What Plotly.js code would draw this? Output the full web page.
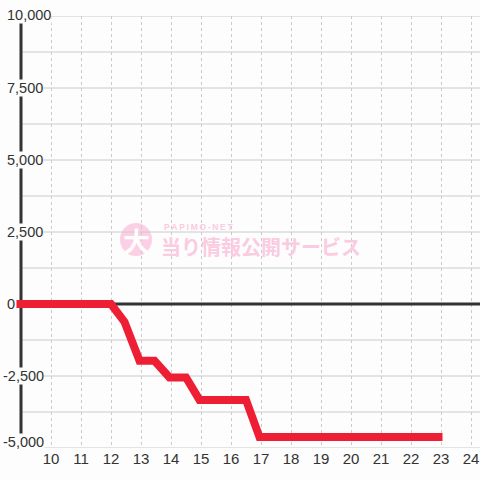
<!DOCTYPE html>
<html>
<head>
<meta charset="utf-8">
<script src="https://cdn.plot.ly/plotly-3.0.1.min.js"></script>
<style>html,body{margin:0;padding:0;background:#fcfdfc;}#chart{width:480px;height:480px;}</style>
</head>
<body>
<div id="chart"></div>
<script>
// Data
const hours  = [8.85, 12.0, 12.45, 12.95, 13.45, 13.95, 14.5, 14.95, 16.5, 16.95, 23.05];
const values = [0, 0, -620, -1970, -1970, -2550, -2550, -3330, -3330, -4620, -4620];
const xTicks = [10, 11, 12, 13, 14, 15, 16, 17, 18, 19, 20, 21, 22, 23, 24];
const yTicks = [-5000, -2500, 0, 2500, 5000, 7500, 10000];
const yTickLabels = ['-5,000', '-2,500', '0', '2,500', '5,000', '7,500', '10,000'];
const watermarkSmall = 'PAPIMO-NET';
const watermarkMain = '当り情報公開サービス';
const watermarkMark = '大';

const X_MIN = 8.3, X_MAX = 24.3, Y_MIN = -5000, Y_MAX = 10000, AXIS_X = 9;
const BG = '#fcfdfc';
const GRID = '#cacaca';
const INK = '#333333';
const PINK = '#fbcbe1';

const shapes = [];
// horizontal gridlines every half tick step
for (let v = Y_MIN; v <= Y_MAX; v += 1250) {
  shapes.push({type: 'line', xref: 'x', yref: 'y', x0: AXIS_X, x1: X_MAX, y0: v, y1: v,
               line: {color: GRID, width: 1}, layer: 'below'});
}
// zero line and left axis line
shapes.push({type: 'line', xref: 'x', yref: 'y', x0: AXIS_X, x1: X_MAX, y0: 0, y1: 0,
             line: {color: INK, width: 3}, layer: 'between'});
shapes.push({type: 'line', xref: 'x', yref: 'y', x0: AXIS_X, x1: AXIS_X, y0: Y_MIN, y1: Y_MAX,
             line: {color: INK, width: 3}, layer: 'between'});
// watermark circle
shapes.push({type: 'circle', xref: 'paper', yref: 'paper',
             x0: 120 / 480, x1: 152 / 480, y0: (448 - 256) / 432, y1: (448 - 223) / 432,
             fillcolor: PINK, line: {width: 0}, layer: 'between', opacity: 0.9});

const annotations = yTicks.map((v, i) => {
  const lab = yTickLabels[i];
  return {
    xref: 'paper', yref: 'y', x: (lab.startsWith('-') ? 1.5 : 5.5) / 480, y: v,
    xanchor: 'left', yanchor: 'middle', yshift: v === Y_MIN ? 6 : (v === Y_MAX ? 1 : 0),
    text: lab, showarrow: false, bgcolor: BG, borderpad: 0,
    font: {family: 'Liberation Sans, Arial, sans-serif', size: 14.5, color: INK}
  };
});
annotations.push({xref: 'paper', yref: 'paper', x: 136 / 480, y: (448 - 240) / 432,
  xanchor: 'center', yanchor: 'middle', text: '<b>' + watermarkMark + '</b>', showarrow: false,
  font: {family: 'Noto Sans CJK JP', size: 27, color: '#ffffff'}, opacity: 0.95});
annotations.push({xref: 'paper', yref: 'paper', x: 162 / 480, y: (448 - 227) / 432,
  xanchor: 'left', yanchor: 'middle', text: '<b>' + watermarkSmall.split('').join('\u2009') + '</b>',
  showarrow: false,
  font: {family: 'Liberation Sans, Arial, sans-serif', size: 8.5, color: PINK}});
annotations.push({xref: 'paper', yref: 'paper', x: 159 / 480, y: (448 - 246.5) / 432,
  xanchor: 'left', yanchor: 'middle', text: '<b>' + watermarkMain + '</b>', showarrow: false,
  font: {family: 'Noto Sans CJK JP', size: 20, color: PINK}});

const trace = {
  x: hours, y: values, type: 'scatter', mode: 'lines',
  line: {color: '#ee1f35', width: 8, shape: 'linear'},
  hoverinfo: 'skip'
};

const layout = {
  width: 480, height: 480,
  margin: {l: 0, r: 0, t: 16, b: 32, pad: 0},
  paper_bgcolor: BG, plot_bgcolor: BG,
  showlegend: false,
  xaxis: {range: [X_MIN, X_MAX], tickvals: xTicks, ticktext: xTicks.map(String),
          showgrid: true, gridcolor: GRID, gridwidth: 1, griddash: '3px,3px',
          zeroline: false, showline: false, ticks: '', fixedrange: true,
          tickfont: {family: 'Liberation Sans, Arial, sans-serif', size: 15, color: INK}},
  yaxis: {range: [Y_MIN, Y_MAX], showgrid: false, zeroline: false, showline: false,
          showticklabels: false, ticks: '', fixedrange: true},
  shapes: shapes,
  annotations: annotations
};

Plotly.newPlot('chart', [trace], layout, {staticPlot: true, displayModeBar: false});
</script>
</body>
</html>
